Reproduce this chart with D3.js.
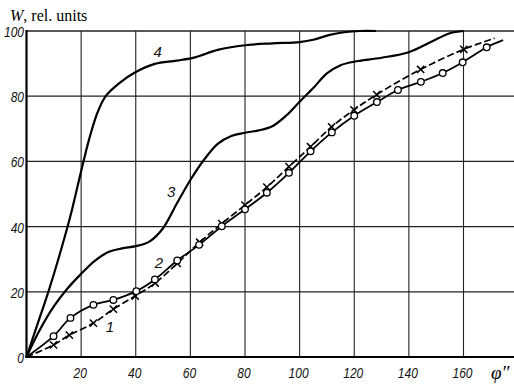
<!DOCTYPE html>
<html>
<head>
<meta charset="utf-8">
<script src="https://cdn.jsdelivr.net/npm/d3@7"></script>
<style>
  body { margin: 0; background: #fff; }
  svg { display: block; }
  .tick-lbl { font-family: "Liberation Sans", sans-serif; font-style: italic; font-size: 15px; fill: #111; }
</style>
</head>
<body>
<div id="chart"></div>
<script>
// W vs phi'' curves 1..4

const xTicks = [20, 40, 60, 80, 100, 120, 140, 160];
const yTicks = [0, 20, 40, 60, 80, 100];

// curve 1 - crosses, dashed
const phi1 = [0, 9.9, 15.7, 24.5, 31.8, 39.8, 47.1, 55.2, 63.4, 71.5, 80, 88, 96.1, 104, 111.7, 119.9, 128.2, 144.3, 160.1, 171.4];
const w1   = [0, 3.7, 6.7, 10.4, 14.7, 18.7, 22.7, 28.7, 35.2, 40.9, 46.6, 52.1, 58.4, 64.5, 70.6, 75.8, 80.5, 88.2, 94.4, 97.8];

// curve 2 - circles, solid
const phi2 = [0, 9.9, 16.1, 24.5, 31.8, 40.2, 47, 55.2, 63.2, 71.5, 80, 88, 96.1, 104, 111.8, 120, 128.3, 136, 144.4, 152.4, 159.7, 168.5, 174.5];
const w2   = [0, 6.4, 12, 16, 17.5, 20.2, 23.8, 29.6, 34.4, 40.1, 45.3, 50.4, 56.5, 63.1, 68.9, 74, 78.2, 81.9, 84.4, 87.1, 90.4, 95, 97.2];

// curve 3
const phi3 = [0, 5, 10, 15, 20, 25, 30, 35, 40, 45, 50, 55, 60, 65, 70, 75, 80, 85, 90, 95, 100, 105, 110, 115, 120, 130, 140, 148, 155, 160];
const w3   = [0, 8.5, 15.5, 21, 25.5, 29.5, 32.2, 33.3, 34, 35.4, 39.5, 47, 54.3, 60.5, 65.4, 67.8, 68.8, 69.5, 70.8, 74, 78.3, 82.5, 87, 89.5, 90.6, 91.8, 93.5, 96.6, 99.3, 100];

// curve 4
const phi4 = [0, 4, 8, 12, 16, 20, 23, 26, 29, 34, 40, 47, 55, 62, 70, 81, 90, 100, 105, 111, 117, 122, 128];
const w4   = [0, 10, 20, 31, 43, 57, 67, 75, 80, 84, 87.4, 89.9, 90.9, 92, 94.2, 95.7, 96.2, 96.6, 97.3, 98.8, 99.7, 100, 100];

const curveLabels = ["1", "2", "3", "4"];
const labelPhi = [30.5, 48.5, 53, 48];
const labelW = [9.5, 29, 51, 94];

const width = 514, height = 385;

const svg = d3.select('#chart')
              .append('svg')
              .attr('width', width)
              .attr('height', height);

const x = d3.scaleLinear().domain([0, 160]).range([26.5, 463.5]);
const y = d3.scaleLinear().domain([0, 100]).range([357, 31]);

// grid
svg.append("g")
   .selectAll("line")
   .data(xTicks)
   .enter()
   .append("line")
   .attr("x1", d => x(d)).attr("x2", d => x(d))
   .attr("y1", y(0)).attr("y2", y(100))
   .attr("stroke", "#222")
   .attr("stroke-width", 1.1);

svg.append("g")
   .selectAll("line")
   .data(yTicks.filter(d => d > 0))
   .enter()
   .append("line")
   .attr("x1", x(0)).attr("x2", width)
   .attr("y1", d => y(d)).attr("y2", d => y(d))
   .attr("stroke", "#222")
   .attr("stroke-width", d => d == 100 ? 1.6 : 1.2);

// axes frame
svg.append("line")
   .attr("x1", x(0)).attr("x2", x(0))
   .attr("y1", y(0) + 1).attr("y2", y(100) - 1)
   .attr("stroke", "#000").attr("stroke-width", 2.2);
svg.append("line")
   .attr("x1", x(0) - 1).attr("x2", width)
   .attr("y1", y(0)).attr("y2", y(0))
   .attr("stroke", "#000").attr("stroke-width", 2);

// tick labels (squeezed horizontally, like the narrow italic digits of the original)
svg.append("g")
   .selectAll("text")
   .data(yTicks)
   .enter()
   .append("text")
   .attr("class", "tick-lbl")
   .attr("transform", d => `translate(24,${y(d) + 6}) scale(0.8,1)`)
   .attr("text-anchor", "end")
   .text(d => d);

svg.append("g")
   .selectAll("text")
   .data(xTicks)
   .enter()
   .append("text")
   .attr("class", "tick-lbl")
   .attr("transform", d => `translate(${x(d) - 1},378) scale(0.8,1)`)
   .attr("text-anchor", "middle")
   .text(d => d);

svg.append("text")
   .attr("x", 491)
   .attr("y", 379)
   .style("font-family", "Liberation Serif, serif")
   .style("font-style", "italic")
   .style("font-size", "19px")
   .text("\u03C6\u2033");

// y title
const title = svg.append("text")
   .attr("x", 10)
   .attr("y", 21)
   .style("font-family", "Liberation Serif, serif")
   .style("font-size", "16px");
title.append("tspan").style("font-style", "italic").text("W");
title.append("tspan").text(", rel. units");

// curves
const toPts = (px, py) => px.map((p, i) => [p, py[i]]);
const line = d3.line()
               .x(d => x(d[0]))
               .y(d => y(d[1]))
               .curve(d3.curveCatmullRom.alpha(0.5));

svg.append("path")
   .attr("d", line(toPts(phi4, w4)))
   .attr("fill", "none").attr("stroke", "#000").attr("stroke-width", 2.2);
svg.append("path")
   .attr("d", line(toPts(phi3, w3)))
   .attr("fill", "none").attr("stroke", "#000").attr("stroke-width", 2.2);
svg.append("path")
   .attr("d", line(toPts(phi2, w2)))
   .attr("fill", "none").attr("stroke", "#000").attr("stroke-width", 1.8);
svg.append("path")
   .attr("d", line(toPts(phi1, w1)))
   .attr("fill", "none").attr("stroke", "#000").attr("stroke-width", 1.7)
   .attr("stroke-dasharray", "7,3");

// markers
const pts1 = toPts(phi1, w1).slice(1, -1);
const pts2 = toPts(phi2, w2).slice(1, -1);

svg.append("g")
   .selectAll("path")
   .data(pts1)
   .enter()
   .append("path")
   .attr("d", d => {
     const cx = x(d[0]), cy = y(d[1]), s = 3.6;
     return `M${cx - s},${cy - s}L${cx + s},${cy + s}M${cx - s},${cy + s}L${cx + s},${cy - s}`;
   })
   .attr("stroke", "#000").attr("stroke-width", 1.5);

svg.append("g")
   .selectAll("circle")
   .data(pts2)
   .enter()
   .append("circle")
   .attr("cx", d => x(d[0]))
   .attr("cy", d => y(d[1]))
   .attr("r", 3.3)
   .attr("fill", "#fff")
   .attr("stroke", "#000").attr("stroke-width", 1.3);

// curve numbers
svg.append("g")
   .selectAll("text")
   .data(curveLabels)
   .enter()
   .append("text")
   .attr("class", "tick-lbl")
   .attr("x", (d, i) => x(labelPhi[i]))
   .attr("y", (d, i) => y(labelW[i]) + 6)
   .attr("text-anchor", "middle")
   .text(d => d);
</script>
</body>
</html>
